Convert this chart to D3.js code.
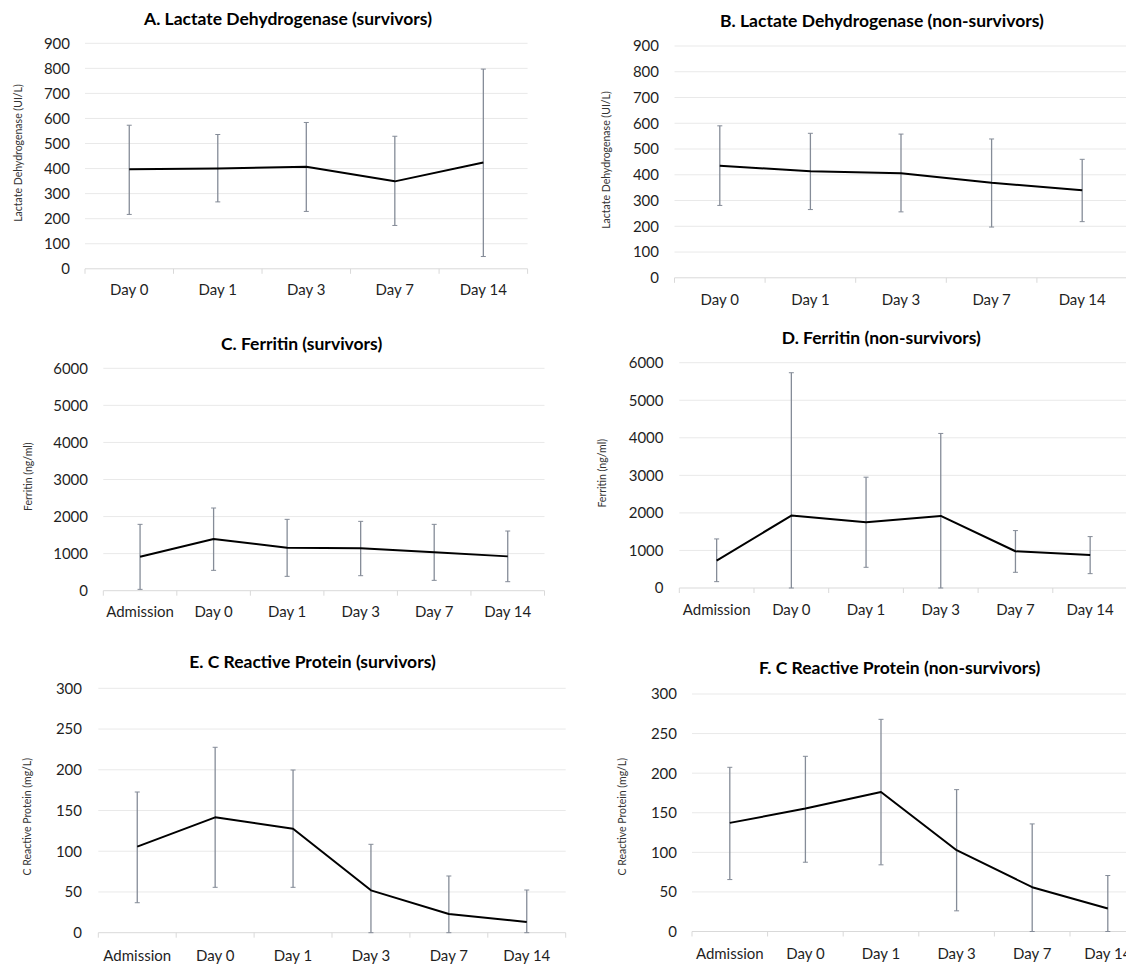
<!DOCTYPE html>
<html>
<head>
<meta charset="utf-8">
<script src="https://cdn.jsdelivr.net/npm/d3@7"></script>
<style>
  html, body { margin: 0; padding: 0; background: #fff; }
  svg { display: block; }
  text { font-family: Lato, "Open Sans", sans-serif; }
</style>
</head>
<body>
<svg id="chart" width="1126" height="966"></svg>
<script>
// ---------- DATA ----------
const ldhDays = ["Day 0", "Day 1", "Day 3", "Day 7", "Day 14"];
const allDays = ["Admission", "Day 0", "Day 1", "Day 3", "Day 7", "Day 14"];

const ldhTicks = [0, 100, 200, 300, 400, 500, 600, 700, 800, 900];
const ferritinTicks = [0, 1000, 2000, 3000, 4000, 5000, 6000];
const crpTicks = [0, 50, 100, 150, 200, 250, 300];

// A. LDH survivors
const ldhSurvMean = [397, 400, 407, 349, 424];
const ldhSurvHigh = [573, 536, 584, 529, 797];
const ldhSurvLow  = [217, 267, 229, 173, 49];
// B. LDH non-survivors
const ldhNonMean = [435, 414, 406, 369, 340];
const ldhNonHigh = [590, 561, 558, 539, 460];
const ldhNonLow  = [281, 265, 256, 197, 218];
// C. Ferritin survivors
const ferSurvMean = [918, 1394, 1160, 1142, 1034, 926];
const ferSurvHigh = [1790, 2231, 1925, 1871, 1790, 1610];
const ferSurvLow  = [36, 549, 387, 405, 279, 243];
// D. Ferritin non-survivors
const ferNonMean = [729, 1929, 1751, 1920, 978, 880];
const ferNonHigh = [1307, 5733, 2951, 4116, 1529, 1369];
const ferNonLow  = [169, 0, 551, 0, 418, 382];
// E. CRP survivors
const crpSurvMean = [105.6, 141.6, 127.7, 52, 22.9, 13.1];
const crpSurvHigh = [172.7, 227.6, 199.7, 108.5, 69.6, 52.4];
const crpSurvLow  = [36.8, 55.7, 55.7, 0, 0, 0];
// F. CRP non-survivors
const crpNonMean = [137.2, 155.3, 176.3, 102.7, 56, 29];
const crpNonHigh = [207.4, 221.3, 268, 179.2, 135.9, 70.7];
const crpNonLow  = [65.6, 87.5, 84.2, 26.1, 0, 0];

const titles = [
  "A. Lactate Dehydrogenase (survivors)",
  "B. Lactate Dehydrogenase (non-survivors)",
  "C. Ferritin (survivors)",
  "D. Ferritin (non-survivors)",
  "E. C Reactive Protein (survivors)",
  "F. C Reactive Protein (non-survivors)"
];
const yTitles = [
  "Lactate Dehydrogenase (UI/L)",
  "Lactate Dehydrogenase (UI/L)",
  "Ferritin (ng/ml)",
  "Ferritin (ng/ml)",
  "C Reactive Protein (mg/L)",
  "C Reactive Protein (mg/L)"
];

// ---------- LAYOUT (positions only) ----------
const layouts = [
  {left: 85,    right: 527.6,  yTop: 43.3,  yZero: 268.8, tickX: 70,    ytX: 18,    ytY: 153,   tX: 288,   tY: 18.5,  xlY: 290},
  {left: 674.5, right: 1127.5, yTop: 46,    yZero: 277.8, tickX: 659,   ytX: 606,   ytY: 160,   tX: 882,   tY: 21,    xlY: 299.3},
  {left: 103.3, right: 544.5,  yTop: 368.3, yZero: 590.7, tickX: 88,    ytX: 28.6,  ytY: 476.7, tX: 301.6, tY: 344,   xlY: 611.7},
  {left: 679.3, right: 1127.5, yTop: 362.7, yZero: 588,   tickX: 663.5, ytX: 602.6, ytY: 473.3, tX: 881.3, tY: 337.5, xlY: 609.3},
  {left: 98.3,  right: 565.7,  yTop: 688.3, yZero: 932.7, tickX: 82,    ytX: 26.8,  ytY: 816.7, tX: 312.5, tY: 661.7, xlY: 956},
  {left: 692,   right: 1145.6, yTop: 694,   yZero: 931.5, tickX: 677,   ytX: 622,   ytY: 816.7, tX: 899.7, tY: 667.3, xlY: 953.7}
];

const panels = [
  {cats: ldhDays, mean: ldhSurvMean, hi: ldhSurvHigh, lo: ldhSurvLow, ticks: ldhTicks},
  {cats: ldhDays, mean: ldhNonMean,  hi: ldhNonHigh,  lo: ldhNonLow,  ticks: ldhTicks},
  {cats: allDays, mean: ferSurvMean, hi: ferSurvHigh, lo: ferSurvLow, ticks: ferritinTicks},
  {cats: allDays, mean: ferNonMean,  hi: ferNonHigh,  lo: ferNonLow,  ticks: ferritinTicks},
  {cats: allDays, mean: crpSurvMean, hi: crpSurvHigh, lo: crpSurvLow, ticks: crpTicks},
  {cats: allDays, mean: crpNonMean,  hi: crpNonHigh,  lo: crpNonLow,  ticks: crpTicks}
];

// ---------- DRAW ----------
const svg = d3.select("#chart");
svg.append("rect").attr("width", 1126).attr("height", 966).attr("fill", "#fff");

panels.forEach((p, i) => {
  const L = layouts[i];
  const g = svg.append("g");
  const x = d3.scaleBand().domain(p.cats).range([L.left, L.right]).paddingInner(0).paddingOuter(0);
  const y = d3.scaleLinear().domain([0, d3.max(p.ticks)]).range([L.yZero, L.yTop]);

  // gridlines
  g.selectAll("line.grid").data(p.ticks.filter(t => t > 0)).join("line")
    .attr("x1", L.left).attr("x2", L.right)
    .attr("y1", d => y(d)).attr("y2", d => y(d))
    .attr("stroke", "#e9e9e9").attr("stroke-width", 1);

  // x axis baseline + boundary ticks
  g.append("line")
    .attr("x1", L.left).attr("x2", L.right)
    .attr("y1", y(0)).attr("y2", y(0))
    .attr("stroke", "#d9d9d9").attr("stroke-width", 1);
  const bounds = p.cats.map(c => x(c)).concat([x(p.cats[p.cats.length - 1]) + x.bandwidth()]);
  g.selectAll("line.xt").data(bounds).join("line")
    .attr("x1", d => d).attr("x2", d => d)
    .attr("y1", y(0)).attr("y2", y(0) + 5)
    .attr("stroke", "#d9d9d9").attr("stroke-width", 1);

  // y tick labels
  g.selectAll("text.yt").data(p.ticks).join("text")
    .attr("x", L.tickX).attr("y", d => y(d)).attr("dy", "0.36em")
    .attr("text-anchor", "end")
    .attr("font-size", 15).attr("fill", "#1f1f1f")
    .text(d => d);

  // x labels
  g.selectAll("text.xl").data(p.cats).join("text")
    .attr("x", d => x(d) + x.bandwidth() / 2).attr("y", L.xlY).attr("dy", "0.36em")
    .attr("text-anchor", "middle")
    .attr("font-size", 15).attr("fill", "#1f1f1f")
    .text(d => d);

  // title
  g.append("text")
    .attr("x", L.tX).attr("y", L.tY).attr("dy", "0.36em")
    .attr("text-anchor", "middle")
    .attr("font-size", 17.5).attr("font-weight", "bold").attr("fill", "#000")
    .text(titles[i]);

  // y title
  g.append("text")
    .attr("transform", `translate(${L.ytX},${L.ytY}) rotate(-90)`)
    .attr("dy", "0.36em")
    .attr("text-anchor", "middle")
    .attr("font-size", 10.5).attr("fill", "#333")
    .text(yTitles[i]);

  const pts = p.cats.map((c, k) => ({cx: x(c) + x.bandwidth() / 2, m: p.mean[k], hi: p.hi[k], lo: p.lo[k]}));

  // error bars
  const eb = g.selectAll("g.eb").data(pts).join("g");
  eb.append("line")
    .attr("x1", d => d.cx).attr("x2", d => d.cx)
    .attr("y1", d => y(d.hi)).attr("y2", d => y(d.lo))
    .attr("stroke", "#858c98").attr("stroke-width", 1.3);
  eb.append("line")
    .attr("x1", d => d.cx - 2.5).attr("x2", d => d.cx + 2.5)
    .attr("y1", d => y(d.hi)).attr("y2", d => y(d.hi))
    .attr("stroke", "#858c98").attr("stroke-width", 1);
  eb.append("line")
    .attr("x1", d => d.cx - 2.5).attr("x2", d => d.cx + 2.5)
    .attr("y1", d => y(d.lo)).attr("y2", d => y(d.lo))
    .attr("stroke", "#858c98").attr("stroke-width", 1);

  // mean line
  const line = d3.line().x(d => d.cx).y(d => y(d.m));
  g.append("path").datum(pts)
    .attr("d", line)
    .attr("fill", "none").attr("stroke", "#000").attr("stroke-width", 2)
    .attr("stroke-linejoin", "round");
});
</script>
</body>
</html>
